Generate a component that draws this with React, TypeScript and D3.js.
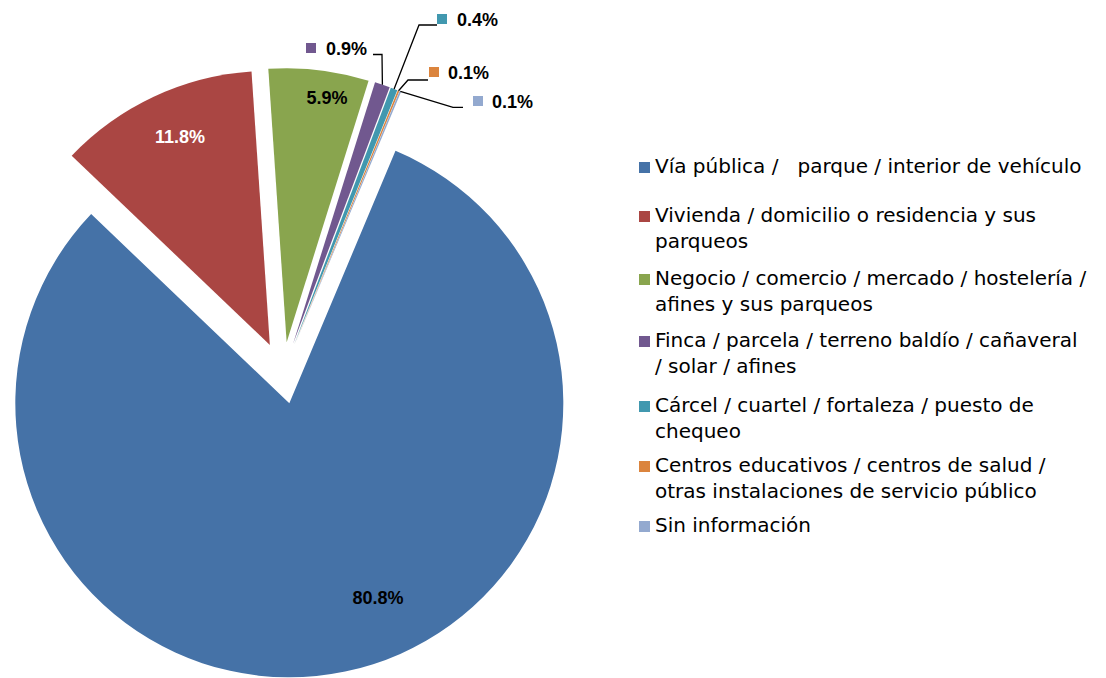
import React from "react";
import * as d3 from "d3";

const categories: string[][] = [
  ["Vía pública /   parque / interior de vehículo"],
  ["Vivienda / domicilio o residencia y sus", "parqueos"],
  ["Negocio / comercio / mercado / hostelería /", "afines y sus parqueos"],
  ["Finca / parcela / terreno baldío / cañaveral", "/ solar / afines"],
  ["Cárcel / cuartel / fortaleza / puesto de", "chequeo"],
  ["Centros educativos / centros de salud /", "otras instalaciones de servicio público"],
  ["Sin información"],
];
const values: number[] = [80.8, 11.8, 5.9, 0.9, 0.4, 0.1, 0.1];
const valueLabels: string[] = ["80.8%", "11.8%", "5.9%", "0.9%", "0.4%", "0.1%", "0.1%"];
const colors: string[] = ["#4572A7", "#AA4643", "#89A54E", "#71588F", "#4198AF", "#DB843D", "#93A9CF"];

// layout
const W = 1106;
const H = 678;
const CX = 283;
const CY = 373;
const R = 274;
const EXPLODE = 31;
const START_DEG = 22.8;

// inside labels: [cx, baseline, color]
const insideLabels: { i: number; x: number; y: number; fill: string }[] = [
  { i: 0, x: 378, y: 604, fill: "#000" },
  { i: 1, x: 180, y: 143, fill: "#fff" },
  { i: 2, x: 327, y: 104, fill: "#000" },
];
// outside labels with leader lines
const outsideLabels: { i: number; sq: number; tx: number; y: number; lineY: number; x1: number; x2: number }[] = [
  { i: 3, sq: 306, tx: 326, y: 55, lineY: 54.5, x1: 373, x2: 382 },
  { i: 4, sq: 437, tx: 457, y: 26, lineY: 25, x1: 437, x2: 419 },
  { i: 5, sq: 429, tx: 448, y: 79, lineY: 80, x1: 428, x2: 408 },
  { i: 6, sq: 473, tx: 492, y: 108, lineY: 107.3, x1: 463, x2: 453 },
];
const legendX = 639;
const legendTextX = 655;
const legendBaselines = [173, 222, 285, 347, 412, 472, 532];
const legendLineH = 26;

export default function App() {
  const pie = d3
    .pie<number>()
    .sort(null)
    .value((d) => d)
    .startAngle((START_DEG * Math.PI) / 180)
    .endAngle((START_DEG * Math.PI) / 180 + 2 * Math.PI);
  const arcs = pie(values);
  const arc = d3.arc<d3.PieArcDatum<number>>().innerRadius(0).outerRadius(R);

  const offset = (a: d3.PieArcDatum<number>) => {
    const m = (a.startAngle + a.endAngle) / 2;
    return [EXPLODE * Math.sin(m), -EXPLODE * Math.cos(m)];
  };
  const outer = (a: d3.PieArcDatum<number>) => {
    const m = (a.startAngle + a.endAngle) / 2;
    return [CX + (R + EXPLODE) * Math.sin(m), CY - (R + EXPLODE) * Math.cos(m)];
  };

  const labelFont = "'Liberation Sans', Arial, sans-serif";
  const legendFont = "'DejaVu Sans', sans-serif";

  return (
    <svg
      width={W}
      height={H}
      style={{ position: "absolute", left: 0, top: 0, background: "#fff" }}
    >
      <g>
        {arcs.map((a, i) => {
          const [dx, dy] = offset(a);
          return (
            <path
              key={i}
              d={arc(a) || ""}
              fill={colors[i]}
              transform={`translate(${CX + dx},${CY + dy})`}
            />
          );
        })}
      </g>
      {insideLabels.map((l) => (
        <text
          key={"in" + l.i}
          x={l.x}
          y={l.y}
          textAnchor="middle"
          fontFamily={labelFont}
          fontWeight="bold"
          fontSize={18}
          fill={l.fill}
        >
          {valueLabels[l.i]}
        </text>
      ))}
      {outsideLabels.map((l) => {
        const [ox, oy] = outer(arcs[l.i]);
        return (
          <g key={"out" + l.i}>
            <polyline
              points={`${l.x1},${l.lineY} ${l.x2},${l.lineY} ${ox},${oy}`}
              fill="none"
              stroke="#000"
              strokeWidth={1.3}
            />
            <rect x={l.sq} y={l.y - 12} width={10} height={10} fill={colors[l.i]} />
            <text
              x={l.tx}
              y={l.y}
              fontFamily={labelFont}
              fontWeight="bold"
              fontSize={18}
              fill="#000"
            >
              {valueLabels[l.i]}
            </text>
          </g>
        );
      })}
      <g>
        {categories.map((lines, i) => (
          <g key={"lg" + i}>
            <rect x={legendX} y={legendBaselines[i] - 11} width={11} height={11} fill={colors[i]} />
            {lines.map((t, j) => (
              <text
                key={j}
                x={legendTextX}
                y={legendBaselines[i] + j * legendLineH}
                fontFamily={legendFont}
                fontSize={20}
                fill="#000"
                style={{ whiteSpace: "pre" }}
              >
                {t}
              </text>
            ))}
          </g>
        ))}
      </g>
    </svg>
  );
}
